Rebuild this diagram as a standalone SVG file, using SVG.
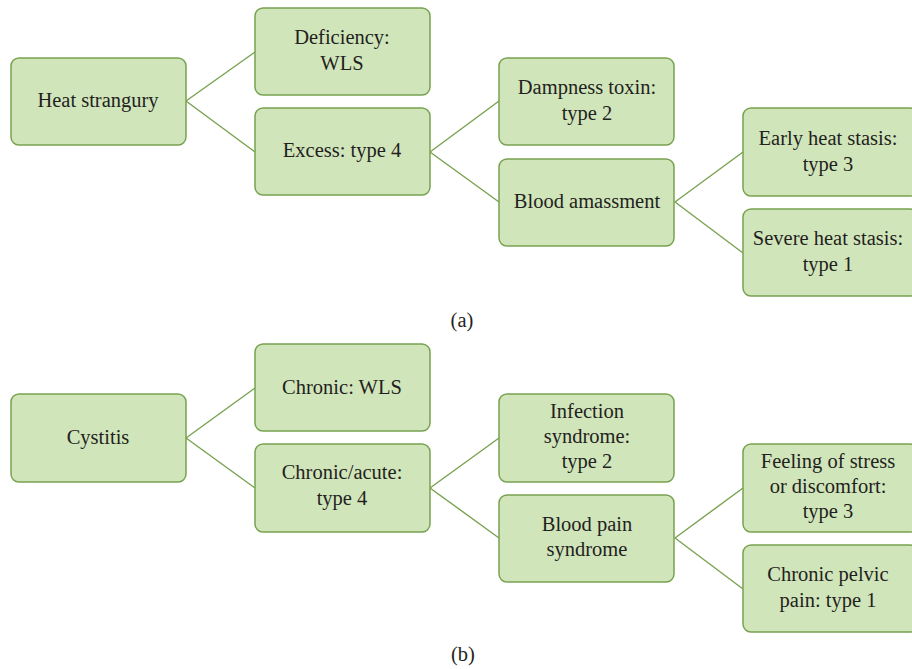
<svg xmlns="http://www.w3.org/2000/svg" width="912" height="669" viewBox="0 0 912 669">
<style>
.b{fill:#d1e5bb;stroke:#77a350;stroke-width:1.5}
.t{font-family:"Liberation Serif","Times New Roman",serif;font-size:20.5px;fill:#231f20;text-anchor:middle}
.c line{stroke:#77a350;stroke-width:1.4}
</style>
<rect width="912" height="669" fill="#fff"/>
<g class="c" id="connectors">
<line x1="186" y1="101" x2="255" y2="52"/>
<line x1="186" y1="101" x2="255" y2="152"/>
<line x1="430" y1="152" x2="499" y2="101"/>
<line x1="430" y1="152" x2="499" y2="202"/>
<line x1="675" y1="202" x2="743" y2="152"/>
<line x1="675" y1="202" x2="743" y2="253"/>
<line x1="186" y1="438" x2="255" y2="388"/>
<line x1="186" y1="438" x2="255" y2="488"/>
<line x1="430" y1="488" x2="499" y2="438"/>
<line x1="430" y1="488" x2="499" y2="538"/>
<line x1="675" y1="538" x2="743" y2="488"/>
<line x1="675" y1="538" x2="743" y2="589"/>
</g>
<g id="a1"><rect class="b" x="11" y="58" width="175" height="87" rx="8"/><text class="t" x="98" y="107">Heat strangury</text></g>
<g id="a2"><rect class="b" x="255" y="8" width="175" height="87" rx="8"/><text class="t" x="342" y="44">Deficiency:</text><text class="t" x="342" y="70">WLS</text></g>
<g id="a3"><rect class="b" x="255" y="108" width="175" height="87" rx="8"/><text class="t" x="342" y="157">Excess: type 4</text></g>
<g id="a4"><rect class="b" x="499" y="58" width="175" height="87" rx="8"/><text class="t" x="587" y="94">Dampness toxin:</text><text class="t" x="587" y="120">type 2</text></g>
<g id="a5"><rect class="b" x="499" y="159" width="175" height="87" rx="8"/><text class="t" x="587" y="208">Blood amassment</text></g>
<g id="a6"><rect class="b" x="743" y="108" width="175" height="88" rx="8"/><text class="t" x="828" y="145">Early heat stasis:</text><text class="t" x="828" y="171">type 3</text></g>
<g id="a7"><rect class="b" x="743" y="209" width="175" height="87" rx="8"/><text class="t" x="828" y="245">Severe heat stasis:</text><text class="t" x="828" y="271">type 1</text></g>
<text class="t" x="462" y="327" id="la">(a)</text>
<g id="b1"><rect class="b" x="11" y="394" width="175" height="88" rx="8"/><text class="t" x="98" y="444">Cystitis</text></g>
<g id="b2"><rect class="b" x="255" y="344" width="175" height="87" rx="8"/><text class="t" x="342" y="394">Chronic: WLS</text></g>
<g id="b3"><rect class="b" x="255" y="444" width="175" height="88" rx="8"/><text class="t" x="342" y="479">Chronic/acute:</text><text class="t" x="342" y="505">type 4</text></g>
<g id="b4"><rect class="b" x="499" y="394" width="175" height="88" rx="8"/><text class="t" x="587" y="418">Infection</text><text class="t" x="587" y="443">syndrome:</text><text class="t" x="587" y="468">type 2</text></g>
<g id="b5"><rect class="b" x="499" y="495" width="175" height="87" rx="8"/><text class="t" x="587" y="531">Blood pain</text><text class="t" x="587" y="556">syndrome</text></g>
<g id="b6"><rect class="b" x="743" y="444" width="175" height="88" rx="8"/><text class="t" x="828" y="468">Feeling of stress</text><text class="t" x="828" y="493">or discomfort:</text><text class="t" x="828" y="518">type 3</text></g>
<g id="b7"><rect class="b" x="743" y="545" width="175" height="87" rx="8"/><text class="t" x="828" y="581">Chronic pelvic</text><text class="t" x="828" y="607">pain: type 1</text></g>
<text class="t" x="463" y="661" id="lb">(b)</text>
</svg>
